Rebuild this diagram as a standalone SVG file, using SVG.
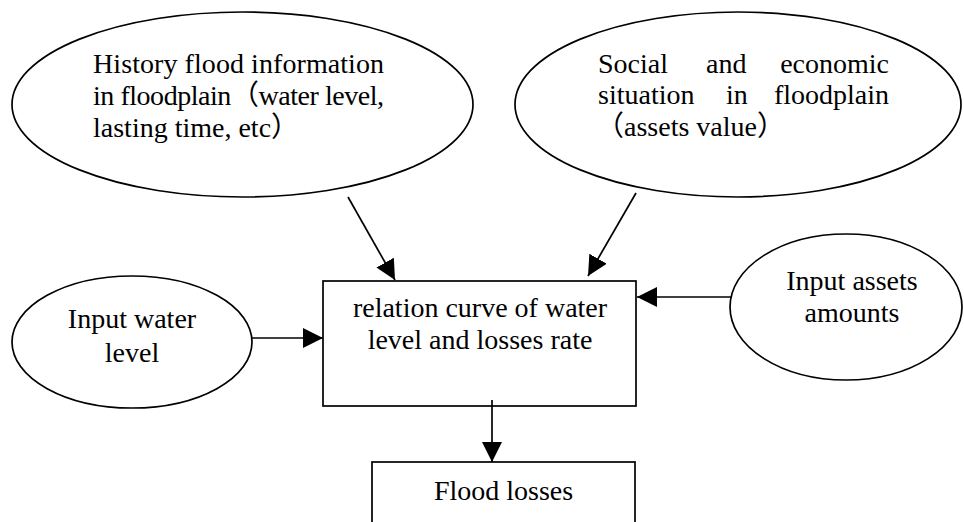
<svg xmlns="http://www.w3.org/2000/svg" width="964" height="522" viewBox="0 0 964 522">
<style>
.shape{fill:#fff;stroke:#000;stroke-width:1.7}
.conn{stroke:#000;stroke-width:1.7;fill:none}
text{font-family:"Liberation Serif","Noto Sans CJK SC",serif;font-size:28px;fill:#000}
.c{text-anchor:middle}
</style>
<defs>
<marker id="arr" markerUnits="userSpaceOnUse" markerWidth="20" markerHeight="20" refX="20" refY="10" orient="auto">
<path d="M0,0 L20,10 L0,20 z" fill="#000"/>
</marker>
</defs>
<rect width="964" height="522" fill="#fff"/>
<g id="history">
<ellipse class="shape" cx="242.5" cy="104.5" rx="230.5" ry="92.5"/>
<text x="93" y="73" textLength="291" lengthAdjust="spacing">History flood information</text>
<text x="93" y="105" textLength="291" lengthAdjust="spacing">in floodplain（water level,</text>
<text x="93" y="137">lasting time, etc）</text>
</g>
<g id="social">
<ellipse class="shape" cx="738" cy="104.5" rx="223" ry="92.5"/>
<text y="73"><tspan x="598">Social</tspan><tspan x="706">and</tspan><tspan x="889" text-anchor="end">economic</tspan></text>
<text y="104"><tspan x="598">situation</tspan><tspan x="726">in</tspan><tspan x="889" text-anchor="end">floodplain</tspan></text>
<text x="596" y="136">（assets value）</text>
</g>
<g id="water">
<ellipse class="shape" cx="132" cy="342" rx="120" ry="66"/>
<text class="c" x="132" y="328">Input water</text>
<text class="c" x="132" y="362">level</text>
</g>
<g id="assets">
<ellipse class="shape" cx="846" cy="307" rx="116" ry="73"/>
<text class="c" x="852" y="290">Input assets</text>
<text class="c" x="852" y="322">amounts</text>
</g>
<g id="relation">
<rect class="shape" x="323" y="281" width="313" height="125"/>
<text class="c" x="480" y="317">relation curve of water</text>
<text class="c" x="480" y="349">level and losses rate</text>
</g>
<g id="losses">
<rect class="shape" x="372" y="462" width="263" height="80"/>
<text class="c" x="503.5" y="500">Flood losses</text>
</g>
<g id="connectors">
<line class="conn" x1="348" y1="197" x2="395" y2="280" marker-end="url(#arr)"/>
<line class="conn" x1="636" y1="193" x2="588" y2="276" marker-end="url(#arr)"/>
<line class="conn" x1="252" y1="338" x2="323" y2="338" marker-end="url(#arr)"/>
<line class="conn" x1="732" y1="297" x2="637" y2="297" marker-end="url(#arr)"/>
<line class="conn" x1="492" y1="400" x2="492" y2="462" marker-end="url(#arr)"/>
</g>
</svg>
